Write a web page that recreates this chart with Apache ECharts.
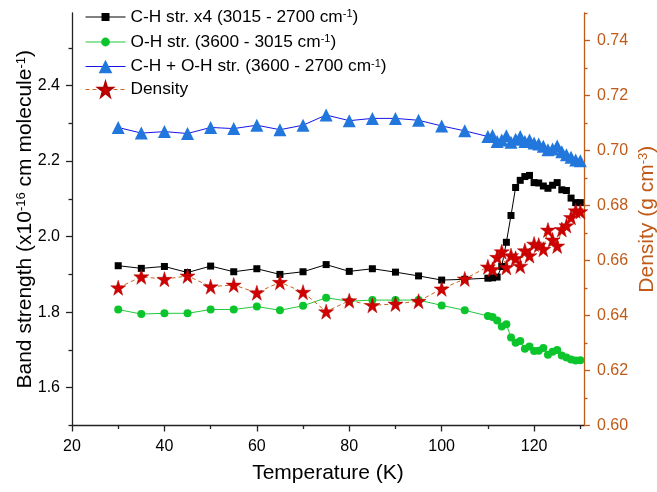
<!DOCTYPE html>
<html>
<head>
<meta charset="utf-8">
<script src="https://cdn.jsdelivr.net/npm/echarts@6/dist/echarts.min.js"></script>
<style>html,body{margin:0;padding:0;background:#fff}#c{width:657px;height:492px}</style>
</head>
<body>
<div id="c"></div>
<script>
// Temperatures (K)
var temps = [30,35,40,45,50,55,60,65,70,75,80,85,90,95,100,105,
  110,111,112,113,114,115,116,117,118,119,120,121,122,123,124,125,126,127,128,129,130];
// C-H str. x4 band strength
var chStr = [1.923,1.916,1.921,1.905,1.922,1.907,1.915,1.900,1.907,1.926,1.908,1.915,1.906,1.896,1.885,1.887,
  1.890,1.891,1.893,1.921,1.985,2.056,2.130,2.149,2.159,2.162,2.143,2.142,2.134,2.128,2.136,2.143,2.124,2.122,2.102,2.090,2.090];
// O-H str. band strength
var ohStr = [1.807,1.795,1.797,1.797,1.807,1.807,1.815,1.805,1.817,1.838,1.829,1.832,1.832,1.832,1.818,1.805,
  1.790,1.787,1.778,1.762,1.768,1.733,1.719,1.724,1.703,1.709,1.697,1.698,1.705,1.687,1.695,1.700,1.685,1.680,1.675,1.672,1.673];
// C-H + O-H str. band strength
var choh = [2.289,2.274,2.278,2.273,2.289,2.286,2.295,2.283,2.295,2.322,2.307,2.313,2.313,2.308,2.293,2.280,
  2.265,2.268,2.252,2.256,2.267,2.250,2.258,2.265,2.252,2.256,2.248,2.245,2.239,2.230,2.232,2.240,2.225,2.217,2.210,2.203,2.201];
// Density (g cm-3)
var density = [0.6501,0.6541,0.6532,0.6544,0.6505,0.6511,0.6483,0.6521,0.6485,0.6414,0.6454,0.6437,0.6442,0.6452,0.6497,0.6533,
  0.6577,0.6568,0.6612,0.6632,0.6575,0.6618,0.6608,0.6580,0.6636,0.6618,0.6660,0.6656,0.6641,0.6711,0.6675,0.6653,0.6713,0.6727,0.6757,0.6781,0.6778];

var seriesNames = ['C-H str. x4 (3015 - 2700 cm-1)','O-H str. (3600 - 3015 cm-1)','C-H + O-H str. (3600 - 2700 cm-1)','Density'];
var legendRich = {
  'C-H str. x4 (3015 - 2700 cm-1)': 'C-H str. x4 (3015 - 2700 cm{sup|-1})',
  'O-H str. (3600 - 3015 cm-1)': 'O-H str. (3600 - 3015 cm{sup|-1})',
  'C-H + O-H str. (3600 - 2700 cm-1)': 'C-H + O-H str. (3600 - 2700 cm{sup|-1})',
  'Density': 'Density'
};

var xMajor = [20,40,60,80,100,120];
var xMinor = [30,50,70,90,110,130];
var yMajor = [1.6,1.8,2.0,2.2,2.4];
var yMinor = [1.5,1.7,1.9,2.1,2.3,2.5];
var dMajor = [0.60,0.62,0.64,0.66,0.68,0.70,0.72,0.74];
var dMinor = [0.61,0.63,0.65,0.67,0.69,0.71,0.73,0.75];

function pairs(xs, ys){ return xs.map(function(x,i){ return [x, ys[i]]; }); }

var FONT = 'Liberation Sans, Arial, sans-serif';
var ORANGE = '#C05A18';
var AX = '#222';
var STAR = 'path://M50,2 L61,37 L98,37 L68,59 L79,95 L50,73 L21,95 L32,59 L2,37 L39,37 Z';
var sup = {fontSize: 11, verticalAlign: 'top', fontFamily: FONT};

function mkLegend(name, top, h){
  return {
    left: 85, top: top, padding: 0, orient: 'vertical',
    itemWidth: 40, itemHeight: h,
    data: [name],
    lineStyle: {width: 1},
    formatter: function(n){ return legendRich[n]; },
    textStyle: {fontFamily: FONT, fontSize: 17.3, color: '#000', rich: {sup: sup}}
  };
}

var chart = echarts.init(document.getElementById('c'), null, {renderer: 'canvas'});
chart.setOption({
  animation: false,
  backgroundColor: '#fff',
  grid: {left: 72, right: 73, top: 13, bottom: 66.5, containLabel: false, outerBoundsMode: 'none'},
  legend: [
    mkLegend(seriesNames[0], 8.5, 10),
    mkLegend(seriesNames[1], 33.5, 11),
    mkLegend(seriesNames[2], 58, 17),
    mkLegend(seriesNames[3], 81, 18)
  ],
  xAxis: [{
    type: 'value', min: 20, max: 130.8, gridIndex: 0, position: 'bottom',
    name: 'Temperature (K)', nameLocation: 'middle', nameGap: 37, nameMoveOverlap: false,
    nameTextStyle: {fontFamily: FONT, fontSize: 21, color: '#000'},
    axisLine: {show: true, onZero: false, lineStyle: {color: AX, width: 1.3}},
    axisTick: {show: true, inside: false, length: 6, customValues: xMajor, lineStyle: {color: AX, width: 1.3}},
    axisLabel: {customValues: xMajor, margin: 13, fontFamily: FONT, fontSize: 16, color: '#000'},
    splitLine: {show: false}
  }, {
    type: 'value', min: 20, max: 130.8, gridIndex: 0, position: 'bottom',
    axisLine: {show: false},
    axisTick: {show: true, inside: false, length: 3.5, customValues: xMinor, lineStyle: {color: AX, width: 1.3}},
    axisLabel: {show: false},
    splitLine: {show: false}
  }],
  yAxis: [{
    type: 'value', min: 1.5, max: 2.592, position: 'left',
    name: 'Band strength (x10{sup|-16} cm molecule{sup|-1})', nameLocation: 'middle', nameGap: 36, nameRotate: 90, nameMoveOverlap: false,
    nameTextStyle: {fontFamily: FONT, fontSize: 21, color: '#000', rich: {sup: {fontSize: 13, verticalAlign: 'top', fontFamily: FONT}}},
    axisLine: {show: true, onZero: false, lineStyle: {color: AX, width: 1.3}},
    axisTick: {show: true, inside: false, length: 6, customValues: yMajor, lineStyle: {color: AX, width: 1.3}},
    axisLabel: {customValues: yMajor, margin: 12, fontFamily: FONT, fontSize: 16, color: '#000',
      formatter: function(v){ return v.toFixed(1); }},
    splitLine: {show: false}
  }, {
    type: 'value', min: 0.60, max: 0.75, position: 'right',
    name: 'Density (g cm{sup|-3})', nameLocation: 'middle', nameGap: 53, nameRotate: 90, nameMoveOverlap: false,
    nameTextStyle: {fontFamily: FONT, fontSize: 21, color: ORANGE, rich: {sup: {fontSize: 13, verticalAlign: 'top', fontFamily: FONT, color: ORANGE}}},
    axisLine: {show: true, onZero: false, lineStyle: {color: ORANGE, width: 1.3}},
    axisTick: {show: true, inside: false, length: 6, customValues: dMajor, lineStyle: {color: ORANGE, width: 1.3}},
    axisLabel: {customValues: dMajor, margin: 13, fontFamily: FONT, fontSize: 16, color: ORANGE,
      formatter: function(v){ return v.toFixed(2); }},
    splitLine: {show: false}
  }, {
    type: 'value', min: 1.5, max: 2.592, position: 'left',
    axisLine: {show: false},
    axisTick: {show: true, inside: false, length: 3.5, customValues: yMinor, lineStyle: {color: AX, width: 1.3}},
    axisLabel: {show: false}, splitLine: {show: false}
  }, {
    type: 'value', min: 0.60, max: 0.75, position: 'right',
    axisLine: {show: false},
    axisTick: {show: true, inside: false, length: 3.5, customValues: dMinor, lineStyle: {color: ORANGE, width: 1.3}},
    axisLabel: {show: false}, splitLine: {show: false}
  }],
  series: [{
    name: seriesNames[0], type: 'line', xAxisIndex: 0, yAxisIndex: 0,
    data: pairs(temps, chStr),
    symbol: 'rect', symbolSize: 7,
    lineStyle: {color: '#000', width: 1},
    itemStyle: {color: '#000'}
  }, {
    name: seriesNames[1], type: 'line', xAxisIndex: 0, yAxisIndex: 0,
    data: pairs(temps, ohStr),
    symbol: 'circle', symbolSize: 8,
    lineStyle: {color: '#22C83A', width: 1},
    itemStyle: {color: '#0CC52C'}
  }, {
    name: seriesNames[2], type: 'line', xAxisIndex: 0, yAxisIndex: 0,
    data: pairs(temps, choh),
    symbol: 'triangle', symbolSize: 13,
    lineStyle: {color: '#1515E8', width: 1},
    itemStyle: {color: '#2277DD'}
  }, {
    name: seriesNames[3], type: 'line', xAxisIndex: 0, yAxisIndex: 1,
    data: pairs(temps, density),
    symbol: STAR, symbolSize: 15,
    lineStyle: {color: '#C8641E', width: 1, type: [4, 3]},
    itemStyle: {color: '#D00000', borderColor: '#B00000', borderWidth: 0.5}
  }]
});
</script>
</body>
</html>
